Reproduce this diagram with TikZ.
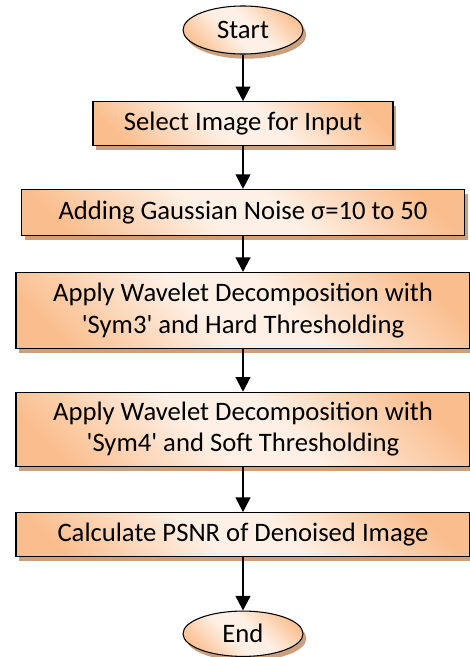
\documentclass[tikz,border=0pt]{standalone}
\usepackage{fontspec}
\setmainfont{Carlito}
\usetikzlibrary{arrows.meta,positioning,shapes.geometric,shadows}
\definecolor{peachdark}{RGB}{250,190,142}
\definecolor{peachlight}{RGB}{254,240,229}
\definecolor{shadowbrown}{RGB}{202,160,126}
\pgfdeclareverticalshading{peachgrad}{100bp}{color(0bp)=(peachdark); color(22bp)=(peachdark); color(44bp)=(peachlight); color(56bp)=(peachlight); color(78bp)=(peachdark); color(100bp)=(peachdark)}

\begin{document}
\begin{tikzpicture}[
  box/.style={draw, line width=0.8pt, shading=peachgrad, shading angle=-45,
              drop shadow={shadow xshift=2.5pt, shadow yshift=-3.5pt,
                           fill=shadowbrown, opacity=1},
              align=center, inner sep=0pt,
              font=\fontsize{20}{23.5}\selectfont},
  term/.style={box, ellipse, minimum width=90pt, minimum height=36pt},
  ar/.style={-{Triangle[length=11pt, width=11pt]}, line width=1.6pt},
]
  \useasboundingbox (0,0) rectangle (352.5pt,-492.75pt);

  \node[term] (start) at (182.25pt,-22.5pt) {Start};
  \node[box, minimum width=225pt, minimum height=33pt, below=35pt of start] (select)
    {Select Image for Input};
  \node[box, minimum width=332pt, minimum height=34.5pt, below=32pt of select] (noise)
    {Adding Gaussian Noise σ=10 to 50};
  \node[box, minimum width=340.5pt, minimum height=57pt, below=27pt of noise] (hard)
    {Apply Wavelet Decomposition with\\\textquotesingle Sym3\textquotesingle{} and Hard Thresholding};
  \node[box, minimum width=340.5pt, minimum height=55.5pt, below=32pt of hard] (soft)
    {Apply Wavelet Decomposition with\\\textquotesingle Sym4\textquotesingle{} and Soft Thresholding};
  \node[box, minimum width=340.5pt, minimum height=33pt, below=34pt of soft] (psnr)
    {Calculate PSNR of Denoised Image};
  \node[term, minimum height=34pt, below=40pt of psnr] (end) {End};

  \draw[ar] (start)--(select);
  \draw[ar] (select)--(noise);
  \draw[ar] (noise)--(hard);
  \draw[ar] (hard)--(soft);
  \draw[ar] (soft)--(psnr);
  \draw[ar] (psnr)--(end);

\end{tikzpicture}
\end{document}
